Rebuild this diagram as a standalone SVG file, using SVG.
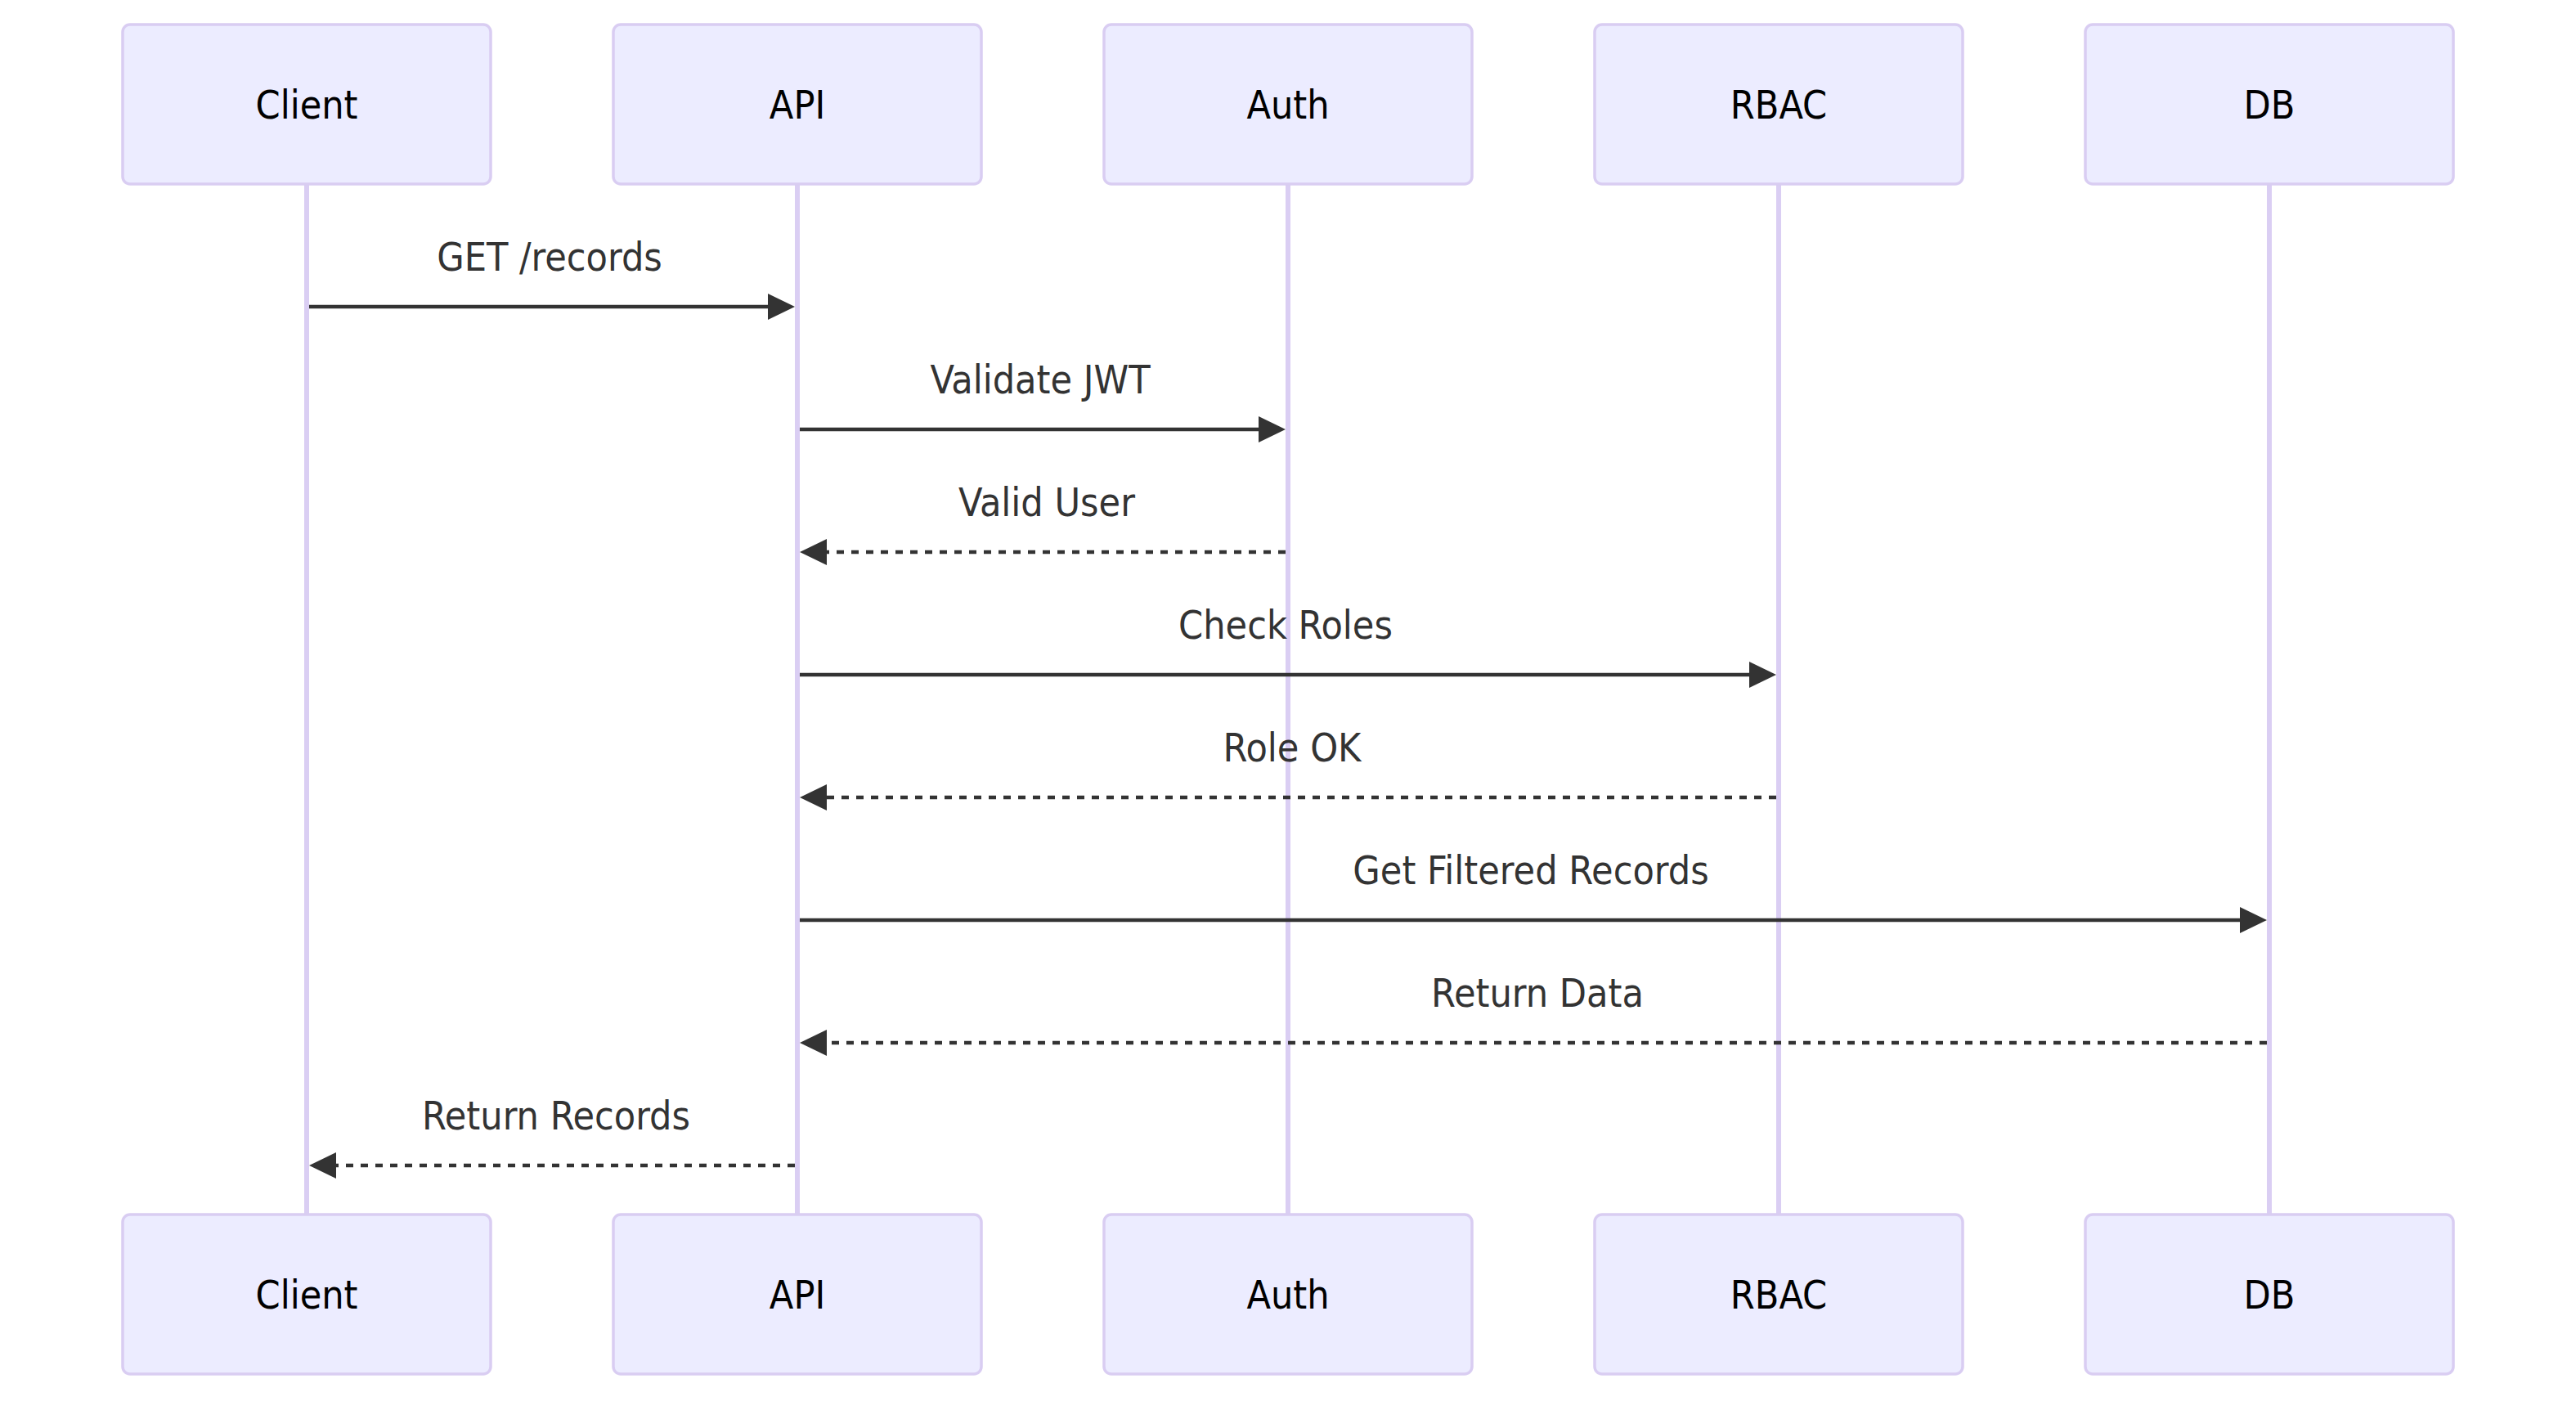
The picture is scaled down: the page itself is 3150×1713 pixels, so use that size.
<svg xmlns="http://www.w3.org/2000/svg" width="3150" height="1713" viewBox="0 0 3150 1713">
<style>
.actor{fill:#ECECFF;stroke:#D9CDF2;stroke-width:3.5}
.actorText{font-family:"DejaVu Sans Condensed","DejaVu Sans",sans-serif;font-stretch:condensed;font-size:48px;fill:#000;text-anchor:middle}
.life{stroke:#DACEF3;stroke-width:6}
.msg{stroke:#333;stroke-width:4.5;fill:none}
.dash{stroke-dasharray:9 9}
.msgText{font-family:"DejaVu Sans Condensed","DejaVu Sans",sans-serif;font-stretch:condensed;font-size:48px;fill:#333;text-anchor:middle}
</style>
<defs>
<marker id="arrow" viewBox="0 0 33 32" markerWidth="33" markerHeight="32" markerUnits="userSpaceOnUse" refX="27" refY="16" orient="auto">
<path d="M0,0 L33,16 L0,32 Z" fill="#333"/>
</marker>
</defs>
<rect width="3150" height="1713" fill="#fff"/>
<g id="lifelines">
<line class="life" x1="375" y1="225" x2="375" y2="1485"/>
<line class="life" x1="975" y1="225" x2="975" y2="1485"/>
<line class="life" x1="1575" y1="225" x2="1575" y2="1485"/>
<line class="life" x1="2175" y1="225" x2="2175" y2="1485"/>
<line class="life" x1="2775" y1="225" x2="2775" y2="1485"/>
</g>
<g id="Client">
<rect class="actor" x="150" y="30" width="450" height="195" rx="9"/>
<text class="actorText" x="375" y="145">Client</text>
<rect class="actor" x="150" y="1485" width="450" height="195" rx="9"/>
<text class="actorText" x="375" y="1600">Client</text>
</g>
<g id="API">
<rect class="actor" x="750" y="30" width="450" height="195" rx="9"/>
<text class="actorText" x="975" y="145">API</text>
<rect class="actor" x="750" y="1485" width="450" height="195" rx="9"/>
<text class="actorText" x="975" y="1600">API</text>
</g>
<g id="Auth">
<rect class="actor" x="1350" y="30" width="450" height="195" rx="9"/>
<text class="actorText" x="1575" y="145">Auth</text>
<rect class="actor" x="1350" y="1485" width="450" height="195" rx="9"/>
<text class="actorText" x="1575" y="1600">Auth</text>
</g>
<g id="RBAC">
<rect class="actor" x="1950" y="30" width="450" height="195" rx="9"/>
<text class="actorText" x="2175" y="145">RBAC</text>
<rect class="actor" x="1950" y="1485" width="450" height="195" rx="9"/>
<text class="actorText" x="2175" y="1600">RBAC</text>
</g>
<g id="DB">
<rect class="actor" x="2550" y="30" width="450" height="195" rx="9"/>
<text class="actorText" x="2775" y="145">DB</text>
<rect class="actor" x="2550" y="1485" width="450" height="195" rx="9"/>
<text class="actorText" x="2775" y="1600">DB</text>
</g>
<g id="connectors">
<line class="msg" x1="378" y1="375" x2="966" y2="375" marker-end="url(#arrow)"/>
<text class="msgText" x="672" y="331">GET /records</text>
<line class="msg" x1="978" y1="525" x2="1566" y2="525" marker-end="url(#arrow)"/>
<text class="msgText" x="1272" y="481">Validate JWT</text>
<line class="msg dash" x1="1572" y1="675" x2="984" y2="675" marker-end="url(#arrow)"/>
<text class="msgText" x="1280" y="631">Valid User</text>
<line class="msg" x1="978" y1="825" x2="2166" y2="825" marker-end="url(#arrow)"/>
<text class="msgText" x="1572" y="781">Check Roles</text>
<line class="msg dash" x1="2172" y1="975" x2="984" y2="975" marker-end="url(#arrow)"/>
<text class="msgText" x="1580" y="931">Role OK</text>
<line class="msg" x1="978" y1="1125" x2="2766" y2="1125" marker-end="url(#arrow)"/>
<text class="msgText" x="1872" y="1081">Get Filtered Records</text>
<line class="msg dash" x1="2772" y1="1275" x2="984" y2="1275" marker-end="url(#arrow)"/>
<text class="msgText" x="1880" y="1231">Return Data</text>
<line class="msg dash" x1="972" y1="1425" x2="384" y2="1425" marker-end="url(#arrow)"/>
<text class="msgText" x="680" y="1381">Return Records</text>
</g>
</svg>
